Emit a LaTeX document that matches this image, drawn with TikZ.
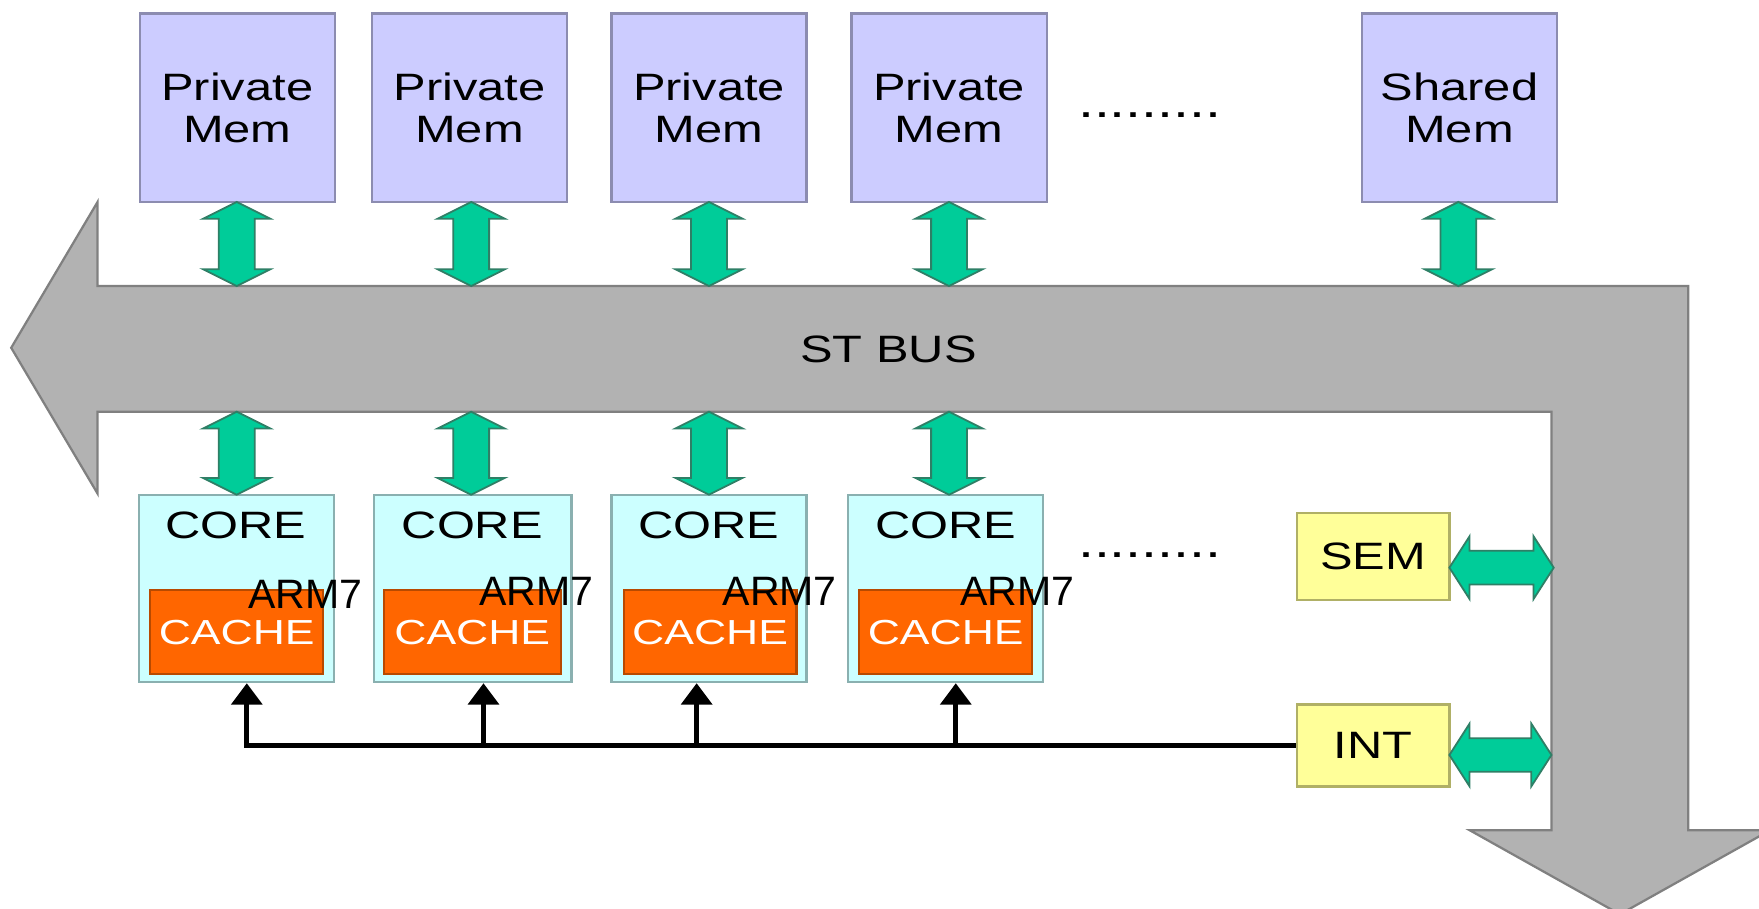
\documentclass[tikz,border=0pt]{standalone}
\usepackage{fontspec}
\setmainfont{Liberation Sans}
\newfontfamily\widefont[FakeStretch=1.28]{Liberation Sans}
\usetikzlibrary{arrows.meta}
\definecolor{pmfill}{HTML}{CCCCFF}
\definecolor{pmdraw}{HTML}{8C8CB0}
\definecolor{corefill}{HTML}{CCFFFF}
\definecolor{coredraw}{HTML}{8AB0B0}
\definecolor{cachefill}{HTML}{FF6600}
\definecolor{cachedraw}{HTML}{B84A00}
\definecolor{yfill}{HTML}{FFFF99}
\definecolor{ydraw}{HTML}{B0B066}
\definecolor{gfill}{HTML}{00CC99}
\definecolor{gdraw}{HTML}{2F7F66}
\definecolor{busfill}{HTML}{B2B2B2}
\definecolor{busdraw}{HTML}{808080}
% vertical double block arrow: x, top y, bottom y
\newcommand\vdbl[3]{%
  \filldraw[garrow] (#1,#2) -- (#1+30,#2+15) -- (#1+16,#2+15) -- (#1+16,#3-15) -- (#1+30,#3-15) -- (#1,#3)
    -- (#1-30,#3-15) -- (#1-16,#3-15) -- (#1-16,#2+15) -- (#1-30,#2+15) -- cycle;}
% horizontal double block arrow: y, left x, right x
\newcommand\hdbl[3]{%
  \filldraw[garrow] (#2,#1) -- (#2+18,#1-28) -- (#2+18,#1-15) -- (#3-18,#1-15) -- (#3-18,#1-28) -- (#3,#1)
    -- (#3-18,#1+28) -- (#3-18,#1+15) -- (#2+18,#1+15) -- (#2+18,#1+28) -- cycle;}
\begin{document}
\begin{tikzpicture}[x=0.5pt,y=-0.5pt,
  box/.style={draw, line width=1pt, inner sep=0pt, minimum width=87pt},
  pmbox/.style={box, fill=pmfill, draw=pmdraw, minimum height=84pt, align=center,
    font=\widefont\fontsize{17}{19}\selectfont},
  corebox/.style={box, fill=corefill, draw=coredraw, minimum height=83.5pt},
  cachebox/.style={box, fill=cachefill, draw=cachedraw, minimum width=77pt, minimum height=37.5pt,
    text=white, font=\widefont\fontsize{15.5}{18}\selectfont},
  ybox/.style={box, fill=yfill, draw=ydraw, minimum width=68pt, font=\widefont\fontsize{17}{19}\selectfont},
  lbl/.style={inner sep=0pt, font=\widefont\fontsize{17}{19}\selectfont},
  dotlbl/.style={inner sep=0pt, font=\widefont\fontsize{20}{20}\selectfont},
  armlbl/.style={inner sep=0pt, font=\fontsize{18.3}{20}\selectfont},
  garrow/.style={fill=gfill, draw=gdraw, line width=0.8pt, line join=miter},
  blkline/.style={line width=2.3pt, -{Triangle[width=13.5pt,length=9.5pt]}},
]
\useasboundingbox (0,0) rectangle (1568,810);
\clip (0,0) rectangle (1568,810);
\fill[white] (0,0) rectangle (1568,810);

% bus
\filldraw[fill=busfill, draw=busdraw, line width=1pt, line join=miter]
  (10,310) -- (87,180) -- (87,255) -- (1505,255) -- (1505,740) -- (1578,740) -- (1444,815)
  -- (1310,740) -- (1383,740) -- (1383,367) -- (87,367) -- (87,440) -- cycle;
\node[lbl] (bus) at (792,311) {ST BUS};

% memories
\node[pmbox] (pm1) at (211.5,96) {Private\\Mem};
\node[pmbox] (pm2) at (418.5,96) {Private\\Mem};
\node[pmbox] (pm3) at (632,96) {Private\\Mem};
\node[pmbox] (pm4) at (846,96) {Private\\Mem};
\node[pmbox] (sm) at (1301,96) {Shared\\Mem};
\node[dotlbl] (dotsA) at (1025,103) {.........};

% cores
\node[corebox] (c1) at (211,524.5) {};
\node[corebox, minimum width=88pt] (c2) at (421.5,524.5) {};
\node[corebox] (c3) at (632,524.5) {};
\node[corebox] (c4) at (843,524.5) {};
\node[lbl] (ct1) at (210,468) {CORE};
\node[lbl] (ct2) at (421,468) {CORE};
\node[lbl] (ct3) at (632,468) {CORE};
\node[lbl] (ct4) at (843,468) {CORE};
\node[cachebox] (k1) at (211,563.5) {CACHE};
\node[cachebox, minimum width=79pt] (k2) at (421,563.5) {CACHE};
\node[cachebox] (k3) at (633,563.5) {CACHE};
\node[cachebox] (k4) at (843,563.5) {CACHE};
\node[armlbl] (a1) at (272,530) {ARM7};
\node[armlbl] (a2) at (478,527) {ARM7};
\node[armlbl] (a3) at (695,527) {ARM7};
\node[armlbl] (a4) at (907,527) {ARM7};
\node[dotlbl] (dotsB) at (1025,495) {.........};

% SEM / INT
\node[ybox, minimum height=39pt] (sem) at (1224,496) {SEM};
\node[ybox, minimum height=36.5pt] (int) at (1224,664.5) {INT};

% green block arrows
\vdbl{211}{180}{255}
\vdbl{420}{180}{255}
\vdbl{632}{180}{255}
\vdbl{846}{180}{255}
\vdbl{1300}{180}{255}
\vdbl{211}{367}{441}
\vdbl{420}{367}{441}
\vdbl{632}{367}{441}
\vdbl{846}{367}{441}
\hdbl{506}{1292}{1385}
\hdbl{673}{1292}{1383}

% interrupt lines
\coordinate (j1) at (220,664.5);
\coordinate (j2) at (431,664.5);
\coordinate (j3) at (621,664.5);
\coordinate (j4) at (852,664.5);
\draw[blkline] (int.west) -- (j1) -- (c1.south -| j1);
\draw[blkline] (j2) -- (c2.south -| j2);
\draw[blkline] (j3) -- (c3.south -| j3);
\draw[blkline] (j4) -- (c4.south -| j4);
\end{tikzpicture}
\end{document}
